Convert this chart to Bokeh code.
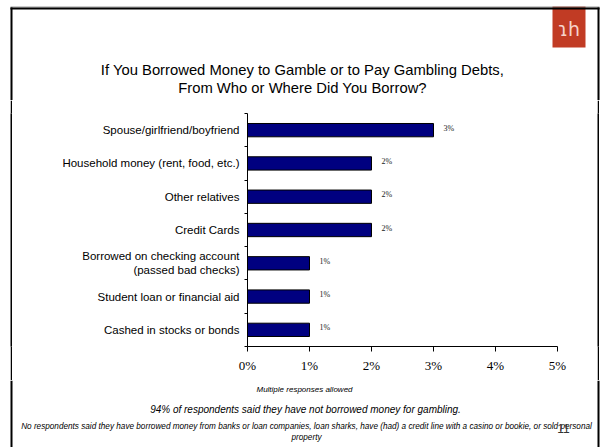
from bokeh.plotting import figure
from bokeh.layouts import column, row
from bokeh.models import Range1d, FixedTicker, ColumnDataSource, Spacer
from bokeh.core.properties import value
from bokeh.embed import file_html
from bokeh.resources import INLINE

# ---- data ----
categories = [
    "Spouse/girlfriend/boyfriend",
    "Household money (rent, food, etc.)",
    "Other relatives",
    "Credit Cards",
    "Borrowed on checking account\n(passed bad checks)",
    "Student loan or financial aid",
    "Cashed in stocks or bonds",
]
values = [3, 2, 2, 2, 1, 1, 1]
value_labels = ["3%", "2%", "2%", "2%", "1%", "1%", "1%"]
x_ticks = [0, 1, 2, 3, 4, 5]
x_tick_labels = ["0%", "1%", "2%", "3%", "4%", "5%"]

title_lines = [
    "If You Borrowed Money to Gamble or to Pay Gambling Debts,",
    "From Who or Where Did You Borrow?",
]
note_small = "Multiple responses allowed"
note_main = "94% of respondents said they have not borrowed money for gambling."
note_foot = [
    "No respondents said they have borrowed money from banks or loan companies, loan sharks, have (had) a credit line with a casino or bookie, or sold personal",
    "property",
]
page_number = "11"
logo_text = "ɿh"

BLACK = "#000000"
SANS = value("Liberation Sans")


def blank(width, height, x0, x1, ytop, ybot, fill="white"):
    f = figure(width=width, height=height, output_backend="svg", toolbar_location=None,
               x_range=Range1d(x0, x1), y_range=Range1d(ybot, ytop),
               x_axis_location=None, y_axis_location=None,
               min_border=0, min_border_left=0, min_border_right=0,
               min_border_top=0, min_border_bottom=0)
    f.outline_line_color = None
    f.grid.visible = False
    f.background_fill_color = fill
    f.border_fill_color = fill
    return f


# ---- top band (page y 0..100) ----
top = blank(600, 100, 0, 600, 0, 100)
top.quad(left=[552], right=[585], top=[6], bottom=[47], fill_color="#C13B24", line_color=None)
top.text(x=[568.5], y=[28], text=[logo_text], text_font=value("DejaVu Sans"),
         text_font_size=value("19px"), text_color="#F6D3CB",
         text_align="center", text_baseline="middle")
top.quad(left=[10], right=[599], top=[6], bottom=[7], fill_color="#9a9a9a", line_color=None)
top.quad(left=[10, 10, 597], right=[599, 12, 599], top=[7, 7, 7], bottom=[9, 100, 100],
         fill_color=BLACK, line_color=None)
top.text(x=[302, 302], y=[69, 87], text=title_lines, text_font=SANS,
         text_font_size=value("14.8px"), text_color=BLACK,
         text_align="center", text_baseline="middle")

# ---- middle band (page y 100..380) ----
left_strip = blank(2, 280, 0, 2, 0, 280, fill=BLACK)
right_strip = blank(2, 280, 0, 2, 0, 280, fill=BLACK)

n = len(categories)
centers = [n - i - 0.5 for i in range(n)]
boundaries = list(range(n + 1))
src = ColumnDataSource(dict(y=centers, v=values, lab=value_labels))

p = figure(width=585, height=280, output_backend="svg", toolbar_location=None,
           x_range=Range1d(0, 5), y_range=Range1d(0, n),
           min_border_left=235, min_border_right=40,
           min_border_top=13, min_border_bottom=34)
p.outline_line_color = None
p.xgrid.visible = False
p.ygrid.visible = False
p.background_fill_color = "white"
p.border_fill_color = "white"

p.hbar(y="y", right="v", left=0, height=0.4, source=src,
       fill_color="#000080", line_color=BLACK, line_width=1)
p.text(x="v", y="y", text="lab", source=src, x_offset=10, y_offset=-2,
       text_font=value("Liberation Serif"), text_font_size=value("8px"),
       text_baseline="middle", text_align="left", text_color="#222222")

xa = p.xaxis[0]
xa.ticker = FixedTicker(ticks=x_ticks, minor_ticks=[])
xa.major_label_overrides = {t: l for t, l in zip(x_ticks, x_tick_labels)}
xa.major_label_text_font = "Liberation Serif"
xa.major_label_text_font_size = "13px"
xa.major_label_text_color = BLACK
xa.major_tick_out = 5
xa.major_tick_in = 0
xa.minor_tick_line_color = None
xa.major_label_standoff = 6
xa.axis_line_color = BLACK
xa.major_tick_line_color = BLACK

ya = p.yaxis[0]
ya.ticker = FixedTicker(ticks=centers, minor_ticks=boundaries)
ya.major_label_overrides = {c: t for c, t in zip(centers, categories)}
ya.major_label_text_font = "Liberation Sans"
ya.major_label_text_font_size = "11.5px"
ya.major_label_text_color = BLACK
ya.major_tick_line_color = None
ya.major_tick_out = 0
ya.major_tick_in = 0
ya.minor_tick_out = 3
ya.minor_tick_in = 0
ya.minor_tick_line_color = BLACK
ya.major_label_standoff = 5
ya.axis_line_color = BLACK

# ---- bottom band (page y 380..447) ----
bottom = blank(600, 67, 0, 600, 380, 447)
bottom.quad(left=[10, 597], right=[12, 599], top=[380, 380], bottom=[447, 447],
            fill_color=BLACK, line_color=None)
bottom.text(x=[304], y=[389], text=[note_small], text_font=SANS, text_font_style="italic",
            text_font_size=value("8px"), text_color=BLACK,
            text_align="center", text_baseline="middle")
bottom.text(x=[305], y=[409], text=[note_main], text_font=SANS, text_font_style="italic",
            text_font_size=value("10px"), text_color=BLACK,
            text_align="center", text_baseline="middle")
bottom.text(x=[306, 306], y=[426, 437], text=note_foot, text_font=SANS, text_font_style="italic",
            text_font_size=value("8.2px"), text_color=BLACK,
            text_align="center", text_baseline="middle")
bottom.text(x=[563], y=[428], text=[page_number], text_font=SANS,
            text_font_size=value("12px"), text_color="#333333",
            text_align="center", text_baseline="middle")

middle = row(Spacer(width=10, height=280), left_strip, p, right_strip, Spacer(width=1, height=280))
layout = column(top, middle, bottom)
open("out.html", "w").write(file_html(layout, INLINE))
